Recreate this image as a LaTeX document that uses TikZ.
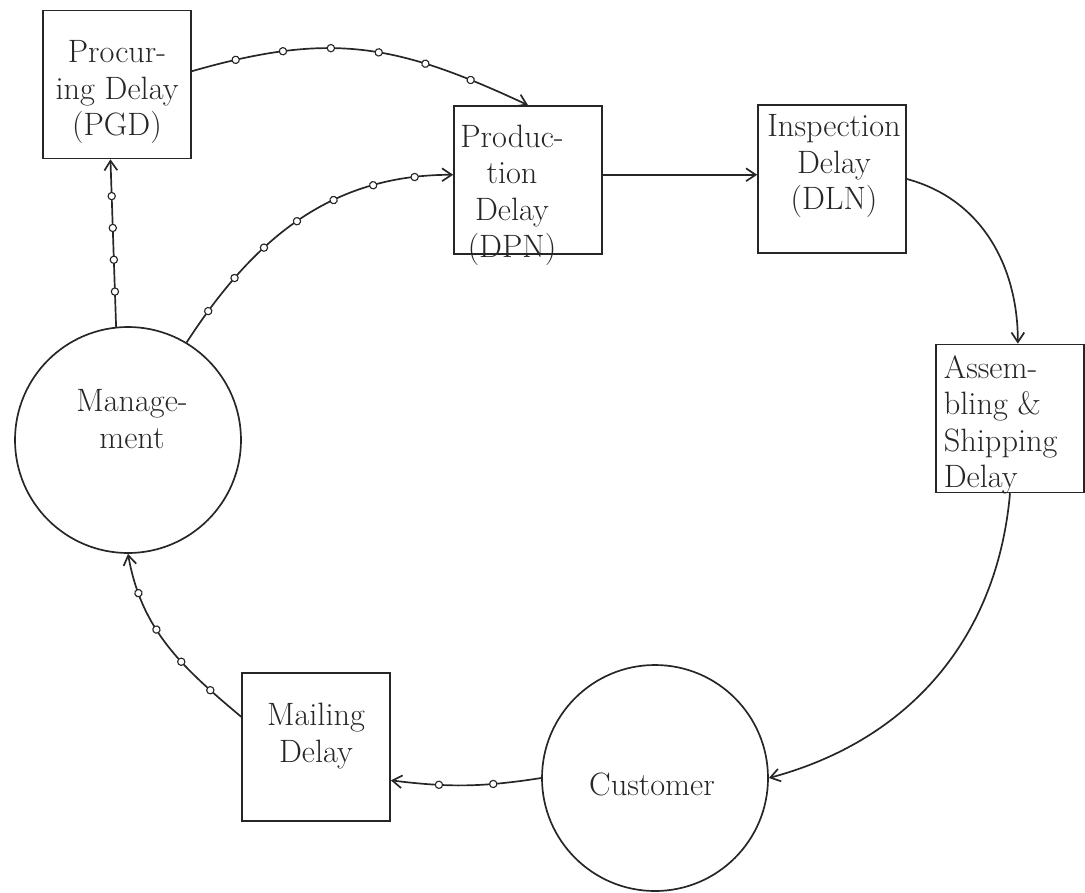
\documentclass[tikz,border=0pt]{standalone}
\usetikzlibrary{
  arrows.meta,
  decorations.markings
}

\begin{document}
\begin{tikzpicture}[
  line width=1.2pt,
  delaybox/.style={
    rectangle, draw=black!85,
    minimum width=3.7cm, minimum height=3.7cm, inner sep=0pt
  },
  actor/.style={circle, draw=black!85, minimum size=5.65cm, inner sep=0pt},
  boxtext/.style={align=center, inner sep=0pt, text=black!85,
    font=\fontsize{23}{26}\selectfont},
  flow/.style={-{Straight Barb[length=2.4mm, width=3.2mm]}, black!85},
  knots/.style n args={3}{postaction={decorate, decoration={markings,
    mark=between positions #1 and #3 step #2 with
      {\draw[fill=white, line width=0.8pt] (0,0) circle (2.6pt);}}}},
]
\useasboundingbox (0,0) rectangle (27.125,-22.3);

% Delay boxes
\node[delaybox] (pgd) at (2.925, -2.11) {};
\node[delaybox] (dpn) at (13.2, -4.5) {};
\node[delaybox] (dln) at (20.8, -4.475) {};
\node[delaybox] (asd) at (25.25, -10.46) {};
\node[delaybox] (mail) at (7.9, -18.675) {};

% Management and customer
\node[actor] (mgmt) at (3.2, -11.0) {};
\node[actor] (cust) at (16.375, -19.45) {};

% Texts
\node[boxtext] (pgdlab) at (2.925, -2.3) {Procur-\\ing Delay\\(PGD)};
\node[boxtext] (dpnlab) at (12.8, -4.875) {Produc-\\tion\\Delay\\(DPN)};
\node[boxtext] (dlnlab) at (20.85, -4.15) {Inspection\\Delay\\(DLN)};
\node[boxtext, align=left, anchor=west] (asdlab) at (23.575, -10.625)
  {Assem-\\bling \&\\Shipping\\Delay};
\node[boxtext] (maillab) at (7.9, -18.4) {Mailing\\Delay};
\node[boxtext] (mgmtlab) at (3.3, -10.475) {Manage-\\ment};
\node[boxtext] (custlab) at (16.3, -19.6) {Customer};

% Information flows (with knots)
\draw[flow, knots={0.13}{0.138}{0.84}] (pgd.10)
  to[out=16, in=155, looseness=1.1] (dpn.north);
\draw[flow, knots={0.21}{0.19}{0.80}] (mgmt.96) -- (pgd.265);
\draw[flow, knots={0.115}{0.128}{0.89}] (mgmt.59)
  to[out=57, in=180] (dpn.176);
\draw[flow, knots={0.32}{0.36}{0.70}] (cust.west)
  to[bend left=8] (mail.-24);
\draw[flow, knots={0.2}{0.2}{0.82}] (mail.158)
  to[out=140, in=-80] (mgmt.south);

% Material flows
\draw[flow] (dpn.4) -- (dpn.4 -| dln.west);
\draw[flow] (dln.east) to[out=-15, in=90] (asd.84);
\draw[flow] (asd.south) to[out=-95, in=15] (cust.east);

\end{tikzpicture}
\end{document}
